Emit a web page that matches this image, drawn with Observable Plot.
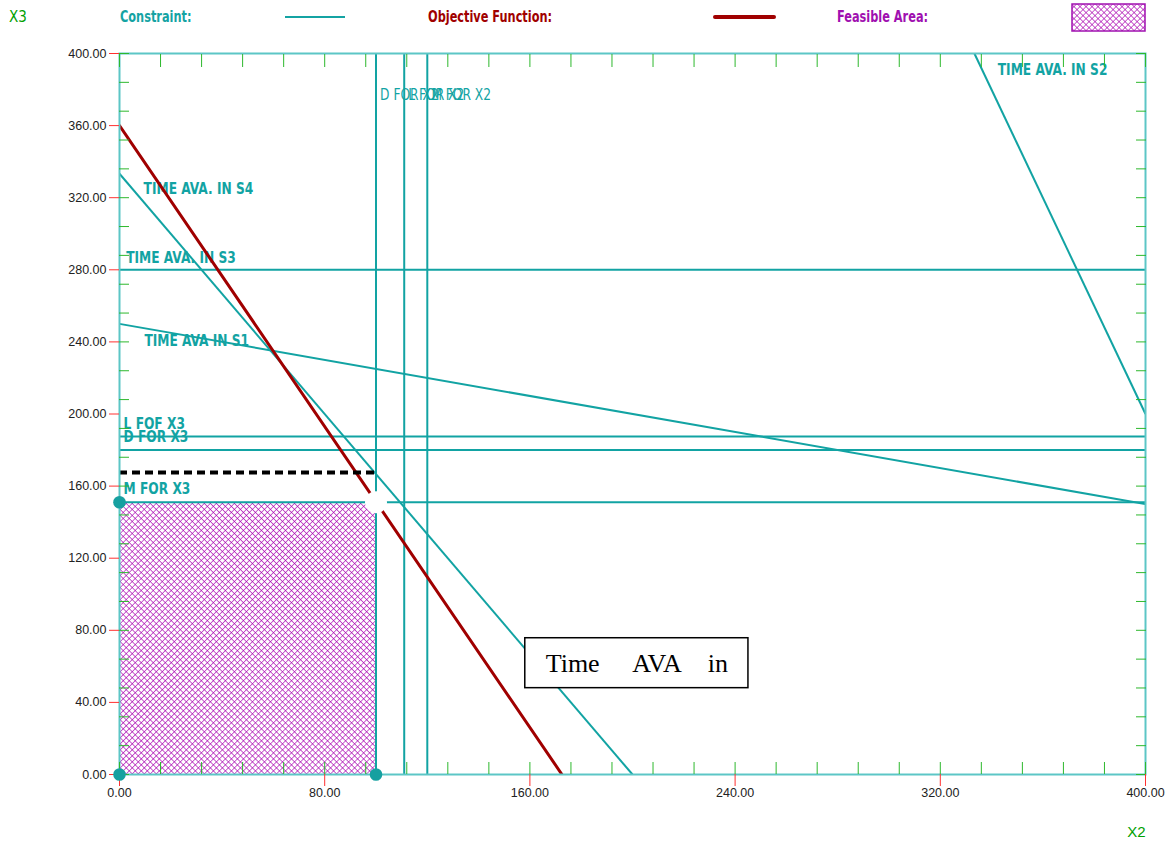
<!DOCTYPE html>
<html>
<head>
<meta charset="utf-8">
<script src="https://cdn.jsdelivr.net/npm/d3@7"></script>
<script src="https://cdn.jsdelivr.net/npm/@observablehq/plot@0.6"></script>
<style>
  html, body { margin: 0; padding: 0; background: #fff; }
  body { width: 1165px; height: 846px; overflow: hidden; font-family: "Liberation Sans", Arial, sans-serif; }
  #legend { position: relative; width: 1165px; height: 40px; }
  #legend .t { position: absolute; top: 8px; line-height: 18px; font-family: "Liberation Sans Narrow", "DejaVu Sans Condensed", "Liberation Sans", sans-serif; font-weight: bold; font-size: 15px; white-space: nowrap; transform: scaleX(0.84); transform-origin: 0 50%; }
  #legend .ln { position: absolute; }
  #legend svg { position: absolute; }
</style>
</head>
<body>
<div id="legend">
  <span class="t" style="left:9px;color:#00a000;font-weight:normal;transform:none;">X3</span>
  <span class="t" style="left:120px;color:#14a3a3;">Constraint:</span>
  <div class="ln" style="left:285px;top:16px;width:60px;height:2px;background:#14a3a3;"></div>
  <span class="t" style="left:428px;color:#a00000;">Objective Function:</span>
  <div class="ln" style="left:713px;top:15px;width:63px;height:4px;background:#a00000;border-radius:2px;"></div>
  <span class="t" style="left:837px;color:#a010b0;">Feasible Area:</span>
  <svg style="left:1071px;top:3px;" width="75" height="29">
    <defs>
      <pattern id="hatchLegend" patternUnits="userSpaceOnUse" width="4.25" height="4.25" patternTransform="rotate(45)">
        <path d="M0,0H4.25M0,0V4.25" stroke="#a800b0" stroke-width="1.2" fill="none"/>
      </pattern>
    </defs>
    <rect x="1" y="1" width="73" height="27" fill="url(#hatchLegend)" stroke="#a010b0" stroke-width="1.5"/>
  </svg>
</div>
<div id="chart"></div>
<script>
// ---- data ----
const constraintNames = ["TIME AVA IN S1", "TIME AVA. IN S2", "TIME AVA. IN S3", "TIME AVA. IN S4",
  "D FOR X2", "L FOR X2", "M FOR X2", "D FOR X3", "L FOF X3", "M FOR X3"];
const constraintX1 = [0, 333.3, 0, 0, 100, 111, 120, 0, 0, 0];
const constraintY1 = [250, 400, 280, 333.3, 0, 0, 0, 180, 187.5, 151];
const constraintX2 = [400, 400, 400, 200, 100, 111, 120, 400, 400, 400];
const constraintY2 = [150, 200, 280, 0, 400, 400, 400, 180, 187.5, 151];
const labelX = [9.7, 342.4, 2.6, 9.4, 101.6, 112.6, 121.6, 1.6, 1.6, 1.6];
const labelY = [240.4, 390.7, 286.7, 324.7, 376.9, 376.9, 376.9, 187.3, 194.5, 158.3];

const objectiveX = [0, 172.5];
const objectiveY = [360, 0];

const feasibleX = [0, 100];
const feasibleY = [0, 151];
const cornerX = [0, 0, 100];
const cornerY = [151, 0, 0];
const optimumX = [100];
const optimumY = [151];
const dashedLevel = [167.5];

const majorX = [0, 80, 160, 240, 320, 400];
const majorY = [0, 40, 80, 120, 160, 200, 240, 280, 320, 360, 400];
const minorTicks = [0, 16, 32, 48, 64, 80, 96, 112, 128, 144, 160, 176, 192, 208, 224, 240, 256, 272, 288, 304, 320, 336, 352, 368, 384, 400];

const noteText = ["Time\u00a0\u00a0\u00a0\u00a0\u00a0AVA\u00a0\u00a0\u00a0\u00a0in"];
const noteX1 = [158.2], noteX2 = [245.2], noteY1 = [47.9], noteY2 = [75.6];

// ---- tables built from the arrays ----
const constraints = constraintNames.map((name, i) => ({
  name, x1: constraintX1[i], y1: constraintY1[i], x2: constraintX2[i], y2: constraintY2[i],
  lx: labelX[i], ly: labelY[i]
}));
const isX2Label = d => d.name.endsWith("X2");
const objective = objectiveX.map((x, i) => ({x, y: objectiveY[i]}));
const feasible = [{x1: feasibleX[0], x2: feasibleX[1], y1: feasibleY[0], y2: feasibleY[1]}];
const corners = cornerX.map((x, i) => ({x, y: cornerY[i]}));
const optimum = optimumX.map((x, i) => ({x, y: optimumY[i]}));
const notes = noteText.map((t, i) => ({t, x1: noteX1[i], x2: noteX2[i], y1: noteY1[i], y2: noteY2[i]}));

const TEAL = "#12a3a3", FRAME = "#5cc6c6", RED = "#a00000", GREEN = "#2db82d", TICKRED = "#ff3030", PURPLE = "#a800b0";
const fmt = d3.format(".2f");
const narrow = "'Liberation Sans Narrow', 'DejaVu Sans Condensed', 'Liberation Sans', sans-serif";

const chart = Plot.plot({
  width: 1165,
  height: 806,
  marginLeft: 119,
  marginRight: 20,
  marginTop: 13,
  marginBottom: 72,
  style: {fontFamily: "'Liberation Sans', Arial, sans-serif", fontSize: "12.5px", background: "white"},
  x: {domain: [0, 400]},
  y: {domain: [0, 400]},
  marks: [
    Plot.rect(feasible, {x1: "x1", x2: "x2", y1: "y1", y2: "y2", fill: "url(#hatchFeasible)"}),
    Plot.text(constraints.filter(d => !isX2Label(d)), {x: "lx", y: "ly", text: "name", textAnchor: "start", fill: TEAL,
      fontFamily: narrow, fontWeight: "bold", fontSize: 16}),
    Plot.text(constraints.filter(isX2Label), {x: "lx", y: "ly", text: "name", textAnchor: "start", fill: TEAL,
      fontFamily: narrow, fontWeight: "normal", fontSize: 16}),
    Plot.link(constraints, {x1: "x1", y1: "y1", x2: "x2", y2: "y2", stroke: TEAL, strokeWidth: 2, clip: true}),
    Plot.line(objective, {x: "x", y: "y", stroke: RED, strokeWidth: 3, clip: true}),
    Plot.ruleY(dashedLevel, {x1: feasibleX[0], x2: feasibleX[1], stroke: "black", strokeWidth: 4, strokeDasharray: "8,5"}),
    Plot.dot(optimum, {x: "x", y: "y", r: 11, fill: "white", stroke: "none"}),
    Plot.frame({stroke: FRAME, strokeWidth: 2}),
    // minor ticks (inside, green)
    Plot.axisX({anchor: "bottom", ticks: minorTicks, tickSize: -12, stroke: GREEN, fill: "none", label: null}),
    Plot.axisX({anchor: "top", ticks: minorTicks, tickSize: -13, stroke: GREEN, fill: "none", label: null}),
    Plot.axisY({anchor: "left", ticks: minorTicks, tickSize: -10, stroke: GREEN, fill: "none", label: null}),
    Plot.axisY({anchor: "right", ticks: minorTicks, tickSize: -10, stroke: GREEN, fill: "none", label: null}),
    // major ticks (outside, red) with labels
    Plot.axisX({anchor: "bottom", ticks: majorX, tickFormat: fmt, tickSize: 12, tickPadding: 2, stroke: TICKRED, fill: "#222", label: null, fontSize: 12.5}),
    Plot.axisY({anchor: "left", ticks: majorY, tickFormat: fmt, tickSize: 10, tickPadding: 3, stroke: TICKRED, fill: "#222", label: null, fontSize: 12.5}),
    Plot.dot(corners, {x: "x", y: "y", r: 6.3, fill: "#16a0a0", stroke: "none"}),
    Plot.text(["X2"], {text: d => d, frameAnchor: "bottom-right", dy: 62, textAnchor: "end", fill: "#00a000", fontSize: 15, fontFamily: "'Liberation Sans', sans-serif"}),
    // annotation box
    Plot.rect(notes, {x1: "x1", x2: "x2", y1: "y1", y2: "y2", fill: "white", stroke: "black", strokeWidth: 1.5}),
    Plot.text(notes, {x: d => (d.x1 + d.x2) / 2, y: d => (d.y1 + d.y2) / 2, text: "t", fill: "black",
      fontFamily: "'Liberation Serif', 'Times New Roman', serif", fontSize: 26})
  ]
});

// condensed look for the constraint labels (narrow font substitute)
d3.select(chart).selectAll(`g[fill="${TEAL}"] text`).each(function () {
  const t = this.getAttribute("transform") || "";
  this.setAttribute("transform", t + " scale(0.85,1)");
});

const defs = d3.select(chart).insert("defs", ":first-child");
const pat = defs.append("pattern")
  .attr("id", "hatchFeasible")
  .attr("patternUnits", "userSpaceOnUse")
  .attr("width", 4.25).attr("height", 4.25)
  .attr("patternTransform", "rotate(45)");
pat.append("rect").attr("width", 4.25).attr("height", 4.25).attr("fill", "white");
pat.append("path").attr("d", "M0,0H4.25M0,0V4.25").attr("stroke", PURPLE).attr("stroke-width", 1.2).attr("fill", "none");

document.getElementById("chart").appendChild(chart);
</script>
</body>
</html>
